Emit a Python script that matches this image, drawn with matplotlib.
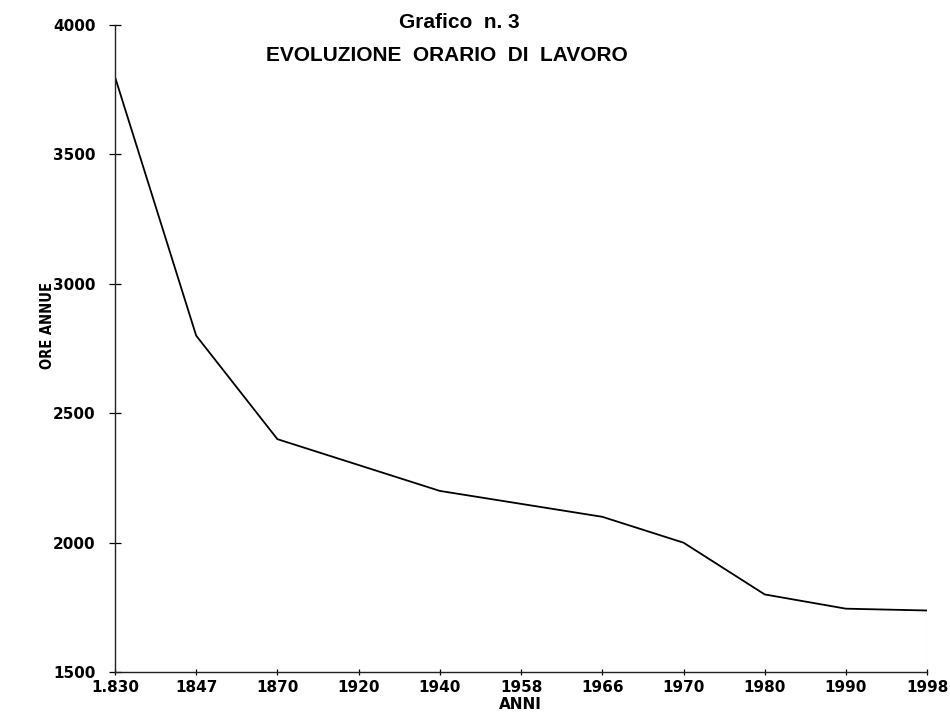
import matplotlib
matplotlib.use("Agg")
import matplotlib.pyplot as plt

# ── Data ────────────────────────────────────────────────────────────
anni = ['1.830', '1847', '1870', '1920', '1940', '1958', '1966',
        '1970', '1980', '1990', '1998']
ore_annue = [3800, 2800, 2400, 2300, 2200, 2150, 2100, 2000, 1800, 1745, 1738]
y_ticks = [1500, 2000, 2500, 3000, 3500, 4000]

# ── Plot ────────────────────────────────────────────────────────────
fig = plt.figure(figsize=(9.5, 7.15), dpi=100)
ax = fig.add_axes([0.121, 0.060, 0.855, 0.905])

x = list(range(len(anni)))
ax.plot(x, ore_annue, color='black', linewidth=1.3)

# faint dotted edge at the right, as in the scanned original
ax.vlines(x[-1], y_ticks[0], ore_annue[-1], colors='#999999',
          linestyles=':', linewidth=0.8)

ax.set_xlim(x[0], x[-1])
ax.set_ylim(y_ticks[0], y_ticks[-1])
ax.set_xticks(x)
ax.set_xticklabels(anni)
ax.set_yticks(y_ticks)

for side in ['top', 'right']:
    ax.spines[side].set_visible(False)
for side in ['left', 'bottom']:
    ax.spines[side].set_linewidth(1.0)
    ax.spines[side].set_color('#222222')

ax.tick_params(axis='y', direction='inout', length=8, width=0.9, pad=10,
               labelsize=11)
ax.tick_params(axis='x', direction='inout', length=5, width=0.9, pad=3,
               labelsize=11)
for lab in ax.get_xticklabels() + ax.get_yticklabels():
    lab.set_fontweight('bold')
    lab.set_family('DejaVu Sans')

# ── Labels & titles ─────────────────────────────────────────────────
fig.text(0.484, 0.969, 'Grafico  n. 3', ha='center', va='center',
         fontsize=15, fontweight='bold', family='Liberation Sans')
fig.text(0.470, 0.923, 'EVOLUZIONE  ORARIO  DI  LAVORO', ha='center',
         va='center', fontsize=15, fontweight='bold', family='Liberation Sans')
fig.text(0.050, 0.545, 'ORE ANNUE', rotation=90, ha='center', va='center',
         fontsize=10.5, fontweight='bold', family='DejaVu Sans',
         fontstretch='condensed')
fig.text(0.548, 0.014, 'ANNI', ha='center', va='center', fontsize=11,
         fontweight='bold', family='DejaVu Sans')

fig.savefig('out.png', dpi=100)
